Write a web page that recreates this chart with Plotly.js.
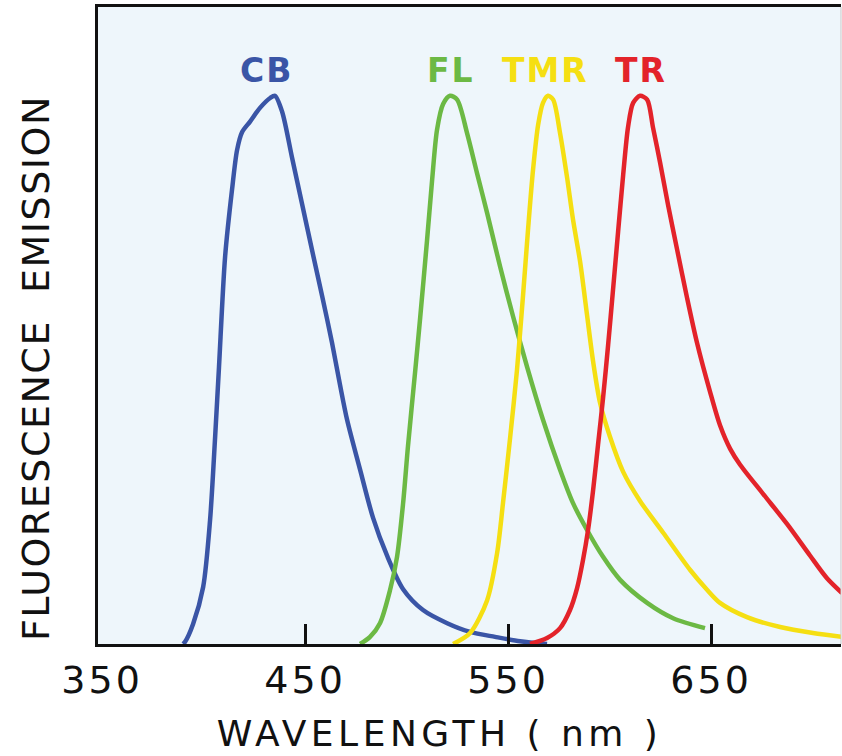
<!DOCTYPE html>
<html><head><meta charset="utf-8">
<script src="https://cdn.plot.ly/plotly-3.0.1.min.js"></script>
<style>
html,body{margin:0;padding:0;background:#fff;}
#chart{width:842px;height:756px;}
.xtick text{letter-spacing:3px;}
.annotation .annotation-text{letter-spacing:2px;}
.annotation[data-index="4"] .annotation-text{letter-spacing:4.5px;}
.annotation[data-index="5"] .annotation-text{letter-spacing:1.5px;}
</style></head><body><div id="chart"></div>
<script>
// Dye names
const seriesNames = ['CB', 'FL', 'TMR', 'TR'];
const seriesColors = ['#3a55a6', '#6cb944', '#f5df12', '#e3232a'];
// wavelength (nm) above which each dye label is centred
const labelWl = [431, 522, 568.5, 615.5];

// Emission spectra (wavelength nm, relative emission, peak = 100)
const cbWl  = [389.9, 390.9, 394.8, 399.8, 403.2, 405.7, 407.6, 410.6, 414.0, 416.5, 419.0, 422.9, 427.8, 432.8, 435.2, 438.7, 443.6, 448.5, 453.4, 458.4, 463.3, 467.2, 470.7, 477.1, 483.5, 490.4, 498.3, 508.1, 520.0, 531.3, 543.6, 555.9, 569.2];
const cbVal = [0, 0.4, 3.6, 10.4, 22.6, 37.8, 50.5, 70.6, 82.8, 90.1, 93.4, 95.3, 97.8, 99.6, 100, 97.1, 88.7, 80.3, 71.9, 63.5, 54.9, 47.3, 40.9, 31.8, 23.0, 16.1, 10.0, 6.2, 3.8, 2.2, 1.3, 0.5, 0];

const flWl  = [477.1, 482.0, 486.9, 491.9, 495.3, 498.3, 500.7, 504.2, 506.7, 510.1, 512.6, 515.0, 518.0, 521.4, 524.9, 529.8, 534.7, 539.7, 546.1, 552.5, 559.4, 567.2, 575.6, 582.0, 588.9, 596.8, 605.2, 618.5, 631.3, 647.0];
const flVal = [0, 1.3, 3.8, 9.9, 15.9, 25.7, 36.1, 49.6, 59.5, 73.7, 84.7, 93.8, 98.5, 100, 99.3, 93.2, 85.9, 78.6, 68.8, 59.7, 50.5, 40.9, 31.8, 25.7, 20.8, 15.9, 11.7, 7.5, 4.7, 2.9];

const tmrWl  = [522.9, 531.3, 539.7, 544.6, 547.5, 551.0, 554.4, 557.4, 559.9, 562.3, 564.8, 567.2, 569.7, 572.2, 575.6, 579.1, 582.0, 585.5, 588.9, 591.9, 595.3, 600.2, 606.7, 615.0, 626.4, 639.7, 648.0, 654.4, 667.7, 684.0, 700.2, 714.5];
const tmrVal = [0, 2.0, 8.0, 16.6, 25.7, 37.6, 50.0, 63.7, 75.9, 86.5, 94.7, 98.7, 100, 99.3, 93.2, 85.0, 77.4, 69.7, 60.0, 51.5, 44.0, 37.8, 31.4, 26.1, 20.3, 13.5, 9.9, 7.5, 4.9, 3.1, 2.0, 1.3];

const trWl  = [560.8, 569.2, 575.6, 580.5, 584.0, 586.9, 589.4, 591.9, 594.3, 596.8, 599.3, 601.7, 604.2, 606.7, 609.1, 611.6, 615.0, 618.5, 621.4, 624.9, 628.8, 633.3, 638.2, 643.1, 649.5, 654.4, 659.4, 664.3, 675.6, 687.4, 698.8, 707.1, 714.5];
const trVal = [0, 1.1, 2.9, 6.2, 10.2, 15.3, 20.8, 28.1, 36.3, 44.9, 54.6, 64.6, 75.2, 85.6, 94.3, 98.7, 100, 99.3, 94.2, 87.8, 80.1, 71.9, 63.1, 54.9, 46.0, 39.9, 35.6, 32.7, 27.4, 21.9, 16.1, 12.0, 9.3];

// Axis ticks and titles
const tickVals = [350, 450, 550, 650];
const tickText = ['350', '450', '550', '650'];
const tickMarkVals = [450, 550, 650];
const xTitle = 'WAVELENGTH ( nm )';
const yTitle = 'FLUORESCENCE\u00a0\u00a0EMISSION';

const allWl = [cbWl, flWl, tmrWl, trWl];
const allVal = [cbVal, flVal, tmrVal, trVal];

const traces = seriesNames.map((n, i) => ({
  type: 'scatter', mode: 'lines', name: n,
  x: allWl[i], y: allVal[i],
  line: {color: seriesColors[i], width: 4.5, shape: 'spline', smoothing: 0.8},
  hoverinfo: 'x+y+name'
}));
// helper trace so the overlaid tick-mark axis is drawn
traces.push({type: 'scatter', mode: 'lines', x: [], y: [], xaxis: 'x2', showlegend: false, hoverinfo: 'skip'});

const annotations = seriesNames.map((n, i) => ({
  x: labelWl[i], y: Math.max(...allVal[i]), xref: 'x', yref: 'y',
  text: n, showarrow: false, yanchor: 'bottom', yshift: 4,
  font: {family: 'DejaVu Sans', size: 33, color: seriesColors[i], weight: 'bold'}
}));
annotations.push({
  text: xTitle, xref: 'paper', yref: 'paper', x: 0.46, y: 0, yshift: -89,
  xanchor: 'center', yanchor: 'middle', showarrow: false, borderpad: 0,
  font: {family: 'DejaVu Sans', size: 36, color: '#111'}
});
annotations.push({
  text: yTitle, xref: 'paper', yref: 'paper', x: -0.083, y: 0.433, textangle: -90,
  xanchor: 'center', yanchor: 'middle', showarrow: false,
  font: {family: 'DejaVu Sans', size: 38, color: '#111'}
});

const xRange = [348, 714];
const layout = {
  width: 842, height: 756,
  margin: {l: 98, r: 1, t: 7, b: 112},
  paper_bgcolor: '#ffffff',
  plot_bgcolor: '#eef6fb',
  showlegend: false,
  font: {family: 'DejaVu Sans', color: '#111'},
  xaxis: {
    range: xRange, showgrid: false, zeroline: false,
    showline: true, linecolor: '#111', linewidth: 3, mirror: true,
    ticks: '', tickvals: tickVals, ticktext: tickText,
    tickfont: {family: 'DejaVu Sans', size: 38, color: '#111'}
  },
  xaxis2: {
    range: xRange, overlaying: 'x', anchor: 'y', side: 'bottom',
    showgrid: false, zeroline: false, showline: false, showticklabels: false,
    ticks: 'inside', ticklen: 20, tickwidth: 3, tickcolor: '#111', tickvals: tickMarkVals
  },
  yaxis: {
    range: [0, 116.2], showgrid: false, zeroline: false,
    showline: true, linecolor: '#111', linewidth: 3, mirror: false,
    ticks: '', showticklabels: false
  },
  shapes: [{type: 'line', xref: 'paper', yref: 'paper', x0: 1, x1: 1, y0: 0, y1: 1, line: {color: '#c8c8c8', width: 1}}],
  annotations: annotations
};

Plotly.newPlot('chart', traces, layout, {displayModeBar: false, staticPlot: true});
</script></body></html>
